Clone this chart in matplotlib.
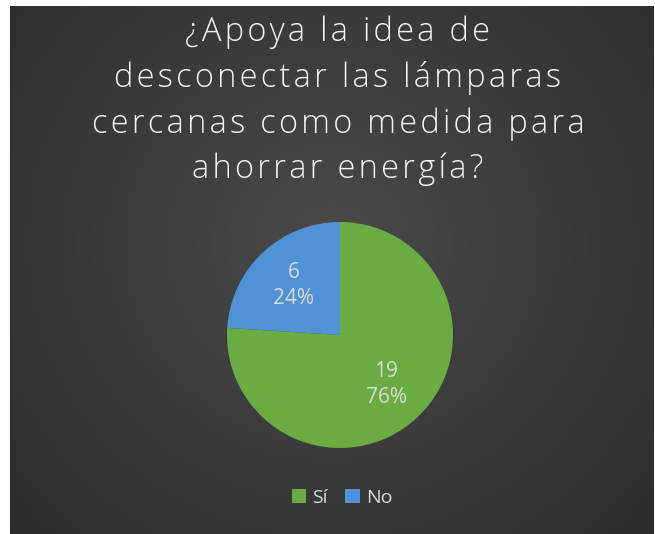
import numpy as np
import matplotlib.pyplot as plt

# Datos de la encuesta
categorias = ['Sí', 'No']
respuestas = [19, 6]
colores = ['#6aab42', '#4f93d6']
titulo = "¿Apoya la idea de\ndesconectar las lámparas\ncercanas como medida para\nahorrar energía?"

W, H = 655, 534
fig = plt.figure(figsize=(W / 100, H / 100), dpi=100)
fig.patch.set_facecolor('white')

# Fondo oscuro con degradado radial (estilo Excel)
bg = fig.add_axes([10 / W, 0, 644 / W, 528 / H])
yy, xx = np.mgrid[0:1:300j, 0:1:360j]
r = np.sqrt((xx - 0.5) ** 2 + ((yy - 0.55) * 0.85) ** 2)
r = np.clip(r / 0.75, 0, 1)
claro = np.array([0x4a, 0x4a, 0x4a]) / 255
oscuro = np.array([0x2a, 0x2a, 0x2a]) / 255
img = claro[None, None, :] * (1 - r[..., None]) + oscuro[None, None, :] * r[..., None]
bg.imshow(img, aspect='auto', extent=[0, 1, 0, 1], origin='lower')
bg.set_axis_off()

# Título (con algo de espacio entre letras, como en Excel)
titulo_esp = "\n".join("\u200a".join(linea) for linea in titulo.split("\n"))
fig.text(338 / W, 1 - 101 / H, titulo_esp, ha='center', va='center',
         color='#f2f2f2', fontsize=23.5, family=['Open Sans', 'DejaVu Sans'],
         weight='light', linespacing=1.47)

# Gráfico circular
cx, cy, rad = 340, 335, 113
ax = fig.add_axes([(cx - rad) / W, 1 - (cy + rad) / H, 2 * rad / W, 2 * rad / H])
total = sum(respuestas)


def etiqueta(p):
    n = int(round(p * total / 100))
    return f"{n}\n{p:.0f}%"


wedges, textos, autotextos = ax.pie(respuestas, colors=colores, startangle=90,
                                    counterclock=False, autopct=etiqueta,
                                    pctdistance=0.6, radius=1,
                                    textprops=dict(color='#d9d9d9', fontsize=15,
                                                   family='Open Sans', linespacing=1.3))
ax.set_xlim(-1, 1)
ax.set_ylim(-1, 1)
ax.set_aspect('equal')

leg = fig.legend(wedges, categorias, loc='center', bbox_to_anchor=(342 / W, 1 - 498 / H),
                 ncol=2, frameon=False, handlelength=0.75, handleheight=0.75,
                 handletextpad=0.3, columnspacing=0.9,
                 prop=dict(family='Open Sans', size=14))
for t in leg.get_texts():
    t.set_color('#d9d9d9')

fig.savefig('out.png', dpi=100, facecolor=fig.get_facecolor())
